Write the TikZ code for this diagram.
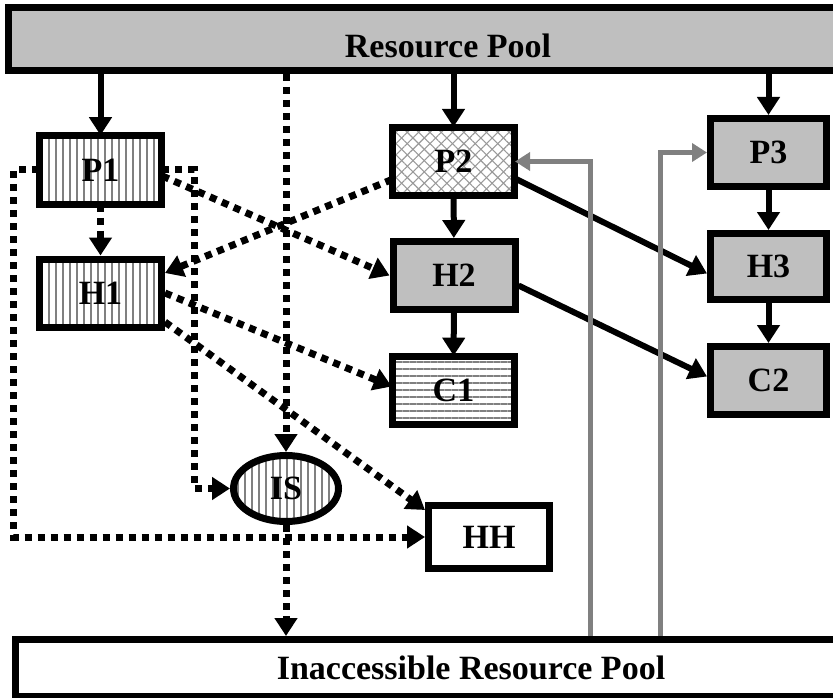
\documentclass[tikz,border=0pt]{standalone}
\usepackage{fontspec}
\setmainfont{Liberation Serif}
\usetikzlibrary{arrows.meta,patterns.meta,shapes.geometric}

\begin{document}
\begin{tikzpicture}[x=1pt,y=-1pt,
	font=\fontsize{34}{36}\selectfont\bfseries,
	box/.style={draw,line width=7pt,minimum width=122pt,minimum height=68pt,inner sep=0pt},
	pool/.style={draw,line width=7pt,inner sep=0pt},
	grayfill/.style={fill=black!25},
	vlines/.style={pattern={Lines[angle=90,distance=7pt,line width=1.6pt]},pattern color=black!50},
	hlines/.style={pattern={Lines[angle=0,distance=7pt,line width=1.6pt]},pattern color=black!50},
	xhatch/.style={preaction={pattern={Lines[angle=45,distance=8pt,line width=1.1pt]},pattern color=black!40},
		pattern={Lines[angle=-45,distance=8pt,line width=1.1pt]},pattern color=black!40},
	solidarrow/.style={line width=6pt,-{Triangle[length=18pt,width=22pt]}},
	dotline/.style={line width=7pt,dash pattern=on 7pt off 6pt},
	dotarrow/.style={dotline,-{Triangle[length=18pt,width=22pt]}},
	grayarrow/.style={draw=black!50,line width=5pt,-{Triangle[length=15pt,width=18pt]}}]
\useasboundingbox (0,0) rectangle (833,698);
\clip (0,0) rectangle (833,698);

\node[pool,grayfill,minimum width=879pt,minimum height=63pt,text height=38pt] (RP) at (448,39) {Resource Pool};
\node[pool,minimum width=911pt,minimum height=57pt] (IRP) at (471,668) {Inaccessible Resource Pool};

\node[box,vlines] (P1) at (100.5,170) {P1};
\node[box,vlines] (H1) at (100.5,293) {H1};
\node[box,xhatch] (P2) at (453.5,161.5) {P2};
\node[box,grayfill] (H2) at (454,275.5) {H2};
\node[box,hlines] (C1) at (453.5,390.5) {C1};
\node[box,minimum width=121pt,minimum height=63pt] (HH) at (489,537) {HH};
\node[box,grayfill,minimum width=116pt] (P3) at (768.5,152.5) {P3};
\node[box,grayfill,minimum width=116pt,minimum height=66pt] (H3) at (768.5,266.5) {H3};
\node[box,grayfill,minimum width=116pt] (C2) at (768.5,380.5) {C2};
\node[ellipse,draw,line width=7pt,vlines,minimum width=105pt,minimum height=66pt,inner sep=0pt] (IS) at (286,488.5) {IS};

\coordinate (G1) at (590,636);
\coordinate (G2) at (660,636);

\foreach \n in {P1,P2,P3}
	\draw[solidarrow] (\n.north |- RP.south) -- (\n.north);
\foreach \a/\b in {P2/H2,H2/C1,P3/H3,H3/C2}
	\draw[solidarrow] (\a) -- (\b);
\draw[solidarrow] ([yshift=-17pt]P2.east) -- ([yshift=-7pt]H3.west);
\draw[solidarrow] ([yshift=-10pt]H2.east) -- ([yshift=4pt]C2.west);

\draw[dotarrow] (IS.north |- RP.south) -- (IS.north);
\draw[dotarrow] (IS.south) -- (IS.south |- IRP.north);
\draw[dotarrow] (P1) -- (H1);
\draw[dotarrow] ([yshift=-6pt]P1.east) -- (H2.west);
\draw[dotarrow] ([yshift=-18pt]P2.west) -- ([yshift=20pt]H1.east);
\draw[dotarrow] (H1.east) -- ([yshift=4pt]C1.west);
\draw[dotarrow] ([yshift=-29pt]H1.east) -- ([yshift=-8pt]HH.north west);
\draw[dotarrow] (P1.west) -- ([xshift=-25pt]P1.west) |- (HH.west);
\draw[dotarrow] (P1.east) -- ([xshift=32pt]P1.east) |- (IS.west);

\draw[grayarrow] (G1) |- (P2.east);
\draw[grayarrow] (G2) |- (P3.west);
\end{tikzpicture}
\end{document}
